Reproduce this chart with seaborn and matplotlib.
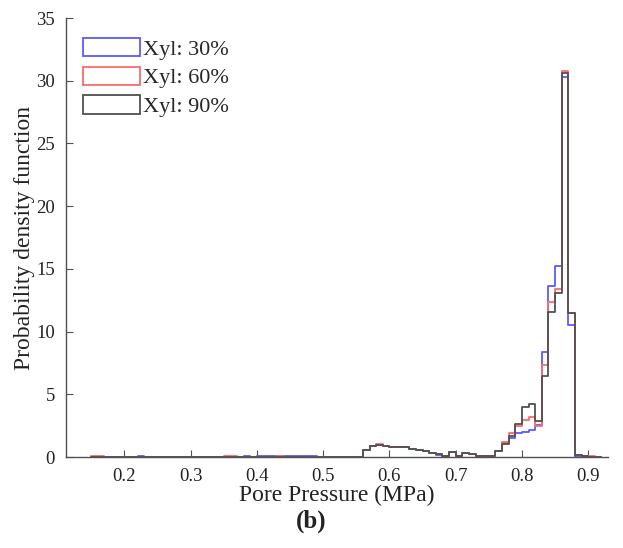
import numpy as np
import pandas as pd
import matplotlib
matplotlib.use("Agg")
import matplotlib.pyplot as plt
import seaborn as sns
from matplotlib.patches import Patch

# Bin edges start (width 0.01)
bin_left = [round(0.15 + 0.01 * i, 2) for i in range(77)]  # 0.15 .. 0.91

# Density values per bin
xyl30 = [0.00, 0.00, 0.02, 0.02, 0.03, 0.02, 0.02, 0.07, 0.03, 0.02,
         0.03, 0.02, 0.02, 0.02, 0.02, 0.02, 0.02, 0.03, 0.04, 0.03,
         0.03, 0.03, 0.04, 0.05, 0.04, 0.07, 0.05, 0.05, 0.07, 0.08,
         0.08, 0.07, 0.06, 0.06, 0.04, 0.03, 0.02, 0.02, 0.02, 0.02,
         0.02, 0.60, 0.85, 0.95, 0.85, 0.82, 0.80, 0.78, 0.65, 0.58,
         0.46, 0.30, 0.20, 0.08, 0.38, 0.05, 0.30, 0.25, 0.10, 0.05,
         0.08, 0.45, 1.10, 1.50, 1.90, 2.00, 2.15, 2.55, 8.35, 13.6,
         15.2, 30.3, 10.5, 0.00, 0.05, 0.00, 0.00]
xyl60 = [0.06, 0.06, 0.02, 0.02, 0.02, 0.02, 0.02, 0.03, 0.02, 0.02,
         0.02, 0.02, 0.02, 0.02, 0.02, 0.02, 0.02, 0.03, 0.04, 0.04,
         0.05, 0.05, 0.04, 0.04, 0.04, 0.04, 0.04, 0.04, 0.05, 0.04,
         0.04, 0.04, 0.03, 0.03, 0.03, 0.02, 0.02, 0.02, 0.02, 0.02,
         0.02, 0.60, 0.88, 1.00, 0.88, 0.82, 0.80, 0.78, 0.65, 0.60,
         0.50, 0.35, 0.22, 0.08, 0.42, 0.05, 0.30, 0.25, 0.10, 0.05,
         0.08, 0.50, 1.20, 1.90, 2.50, 2.95, 3.20, 2.50, 7.30, 12.4,
         13.4, 30.8, 11.45, 0.15, 0.10, 0.08, 0.00]
xyl90 = [0.00, 0.00, 0.03, 0.03, 0.03, 0.03, 0.02, 0.03, 0.02, 0.02,
         0.02, 0.02, 0.02, 0.02, 0.02, 0.02, 0.02, 0.02, 0.04, 0.03,
         0.03, 0.03, 0.03, 0.03, 0.03, 0.04, 0.03, 0.03, 0.04, 0.04,
         0.04, 0.03, 0.03, 0.03, 0.02, 0.02, 0.02, 0.02, 0.02, 0.02,
         0.02, 0.60, 0.85, 0.95, 0.85, 0.82, 0.80, 0.78, 0.65, 0.58,
         0.48, 0.35, 0.22, 0.08, 0.40, 0.05, 0.30, 0.25, 0.10, 0.05,
         0.08, 0.45, 1.00, 1.70, 2.60, 4.00, 4.20, 2.90, 6.50, 11.6,
         13.05, 30.6, 11.45, 0.20, 0.10, 0.00, 0.00]

series_names = ["Xyl: 30%", "Xyl: 60%", "Xyl: 90%"]
series_vals = [xyl30, xyl60, xyl90]
colors = ["#5a5aff", "#ff6a6a", "#505050"]

x_ticks = [0.2, 0.3, 0.4, 0.5, 0.6, 0.7, 0.8, 0.9]
y_ticks = [0, 5, 10, 15, 20, 25, 30, 35]

width = 0.01
edges = [round(b, 3) for b in bin_left] + [round(bin_left[-1] + width, 3)]
centers = [b + width / 2 for b in bin_left]

rows = []
for name, vals in zip(series_names, series_vals):
    for c, v in zip(centers, vals):
        rows.append({"x": c, "w": v, "series": name})
df = pd.DataFrame(rows)

sns.set_style("white")
plt.rcParams["font.family"] = ["Liberation Serif", "DejaVu Serif"]

fig = plt.figure(figsize=(6.23, 5.48), dpi=100)
ax = fig.add_axes([0.106, 0.166, 0.87, 0.801])

for name, col in zip(series_names, colors):
    sub = df[df["series"] == name]
    sns.histplot(data=sub, x="x", weights="w", bins=edges, element="step",
                 fill=False, color=col, linewidth=1.3, ax=ax)

ax.set_xlim(0.112, 0.93)
ax.set_ylim(0, 35)
ax.set_xticks(x_ticks)
ax.set_xticklabels([f"{t:.1f}" for t in x_ticks])
ax.set_yticks(y_ticks)
ax.set_yticklabels([str(t) for t in y_ticks])
ax.tick_params(bottom=True, left=True, direction="in", length=5, width=0.8,
               colors="#505050", labelcolor="#222222", labelsize=13.5, pad=8)
for s in ["top", "right"]:
    ax.spines[s].set_visible(False)
for s in ["left", "bottom"]:
    ax.spines[s].set_color("#505050")
    ax.spines[s].set_linewidth(1.0)

ax.set_xlabel("Pore Pressure (MPa)", fontsize=17, color="#222222", labelpad=0)
ax.set_ylabel("Probability density function", fontsize=17, color="#222222",
              labelpad=1)

handles = [Patch(facecolor="none", edgecolor=c, linewidth=1.3) for c in colors]
ax.legend(handles, series_names, loc="upper left", frameon=False,
          fontsize=16, handlelength=2.55, handleheight=0.9,
          handletextpad=0.15, labelspacing=0.3,
          bbox_to_anchor=(0.003, 0.99), borderaxespad=0.3)

fig.text(0.5, 1 - 521 / 548, "(b)", ha="center", va="center", fontsize=18,
         fontweight="bold", color="#222222")

fig.savefig("out.png", dpi=100)
